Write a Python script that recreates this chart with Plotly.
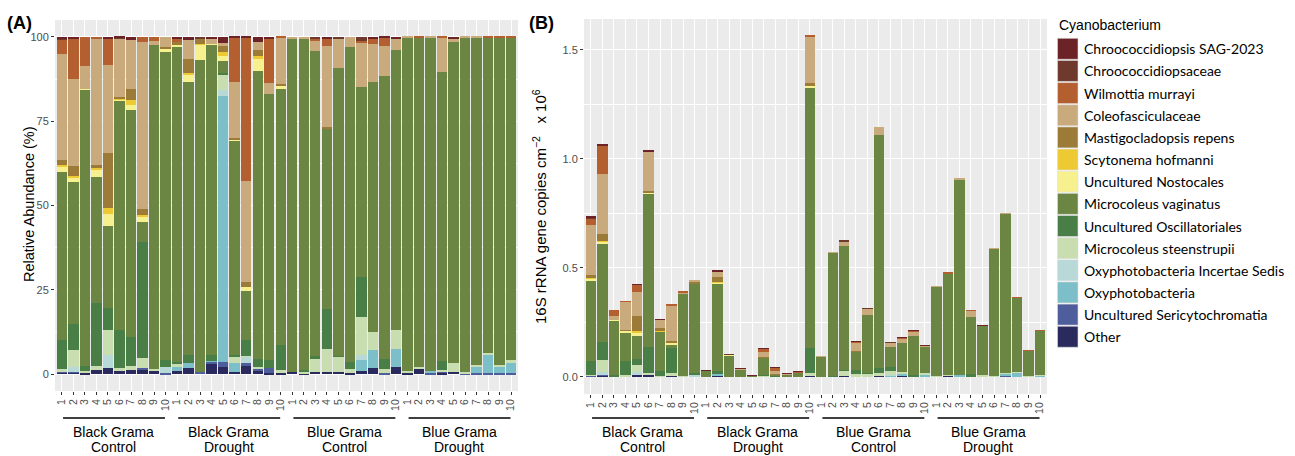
import plotly.graph_objects as go

W, H = 1295, 456

# ---------------- data ----------------
group_names = [("Black Grama", "Control"), ("Black Grama", "Drought"),
               ("Blue Grama", "Control"), ("Blue Grama", "Drought")]
sample_ticks = ["1", "2", "3", "4", "5", "6", "7", "8", "9", "10"] * 4

# species listed bottom -> top of the stack
species = ["Other", "Uncultured Sericytochromatia", "Oxyphotobacteria",
           "Oxyphotobacteria Incertae Sedis", "Microcoleus steenstrupii",
           "Uncultured Oscillatoriales", "Microcoleus vaginatus",
           "Uncultured Nostocales", "Scytonema hofmanni", "Mastigocladopsis repens",
           "Coleofasciculaceae", "Wilmottia murrayi", "Chroococcidiopsaceae",
           "Chroococcidiopsis SAG-2023"]
colors = ["#2B2A5F", "#4E5D9B", "#7DBFC8", "#B9D9D9", "#C8DDB0", "#4A7E47",
          "#6B8543", "#F7F08F", "#EDC934", "#9C7B38", "#C9AA7C", "#B35F2F",
          "#6E3A2E", "#6B2328"]

# relative abundance (%) per sample (40 samples)
other = [0.6, 0.6, 0.5, 1.2, 1.9, 1.0, 1.2, 1.4, 1.0, 0.0,
         1.0, 1.7, 0.0, 3.2, 2.0, 0.7, 2.7, 1.2, 0.4, 0.2,
         0.7, 0.2, 0.7, 0.7, 0.7, 0.3, 1.0, 1.9, 0.0, 2.2,
         0.2, 1.8, 0.0, 0.4, 0.7, 0.0, 0.0, 0.0, 0.0, 0.0]
sericyto = [0.3, 0.1, 0, 0, 0, 0, 0, 0.3, 0, 0.4,
            0, 0, 0.7, 0.5, 1.5, 0, 0.5, 0.5, 1.3, 0,
            0, 0, 0, 0, 0, 0, 0, 0, 0.4, 0,
            0, 0, 0.3, 0.3, 0, 0.2, 0.4, 0.4, 0.2, 0.4]
oxyphoto = [0, 0, 0, 0, 0, 0, 0, 0, 0, 0,
            1.4, 1.5, 0, 0.3, 79.1, 2.5, 0, 0, 0, 0,
            0, 0, 0, 0, 0, 0, 3.2, 5.4, 0, 5.4,
            0, 0, 0.6, 0, 0, 0, 1.8, 5.2, 1.8, 3.0]
incertae = [0, 1.5, 0, 0, 3.7, 0, 0, 0, 0, 1.8,
            0, 0, 0, 0, 1.5, 0, 1.9, 0, 0, 0,
            0, 0, 0, 0, 0, 0, 1.4, 0, 0, 0,
            0, 0, 0, 0, 0, 0, 0, 0, 0, 0]
steenstrupii = [0.5, 4.9, 0.4, 1.2, 7.5, 0.7, 1.2, 3.2, 0.5, 0,
                0.5, 0, 0, 0, 4.6, 1.9, 0.2, 0.3, 0, 1.0,
                0, 0.5, 3.9, 6.9, 4.4, 1.3, 11.4, 5.3, 1.0, 5.5,
                0.6, 0.3, 0, 0.5, 2.5, 0.5, 0.5, 0.7, 0.7, 0.8]
oscillatoriales = [8.7, 7.9, 1.4, 18.8, 6.4, 11.4, 8.7, 34.4, 0, 2.0,
                   0.8, 2.4, 0, 1.6, 0.7, 0.5, 4.8, 2.6, 2.5, 7.4,
                   0, 0.5, 0.7, 11.6, 0.3, 2.1, 11.7, 0, 3.2, 0,
                   0, 0, 0, 2.8, 0, 0, 0, 0, 0, 0]
vaginatus = [49.9, 42.1, 82.0, 37.2, 24.5, 67.9, 67.2, 5.9, 96.1, 91.4,
             93.4, 81.1, 92.3, 92.0, 3.3, 63.6, 14.6, 85.4, 78.8, 76.0,
             98.9, 98.4, 90.6, 53.7, 85.3, 93.2, 56.4, 74.1, 83.8, 83.0,
             99.0, 97.6, 98.8, 85.7, 95.4, 99.1, 97.2, 93.6, 97.2, 95.7]
nostocales = [1.5, 1.2, 0.3, 2.3, 3.4, 0.5, 1.5, 1.5, 0, 0.7,
              0.5, 2.0, 4.6, 0.3, 1.7, 0.3, 1.2, 3.4, 0, 0.7,
              0, 0, 0, 0, 0, 0, 0, 0, 0, 0,
              0, 0, 0, 0, 0, 0, 0, 0, 0, 0]
scytonema = [0.4, 0.4, 0, 0.3, 1.8, 0.3, 1.5, 0.5, 0, 0,
             0, 0.5, 0.3, 0, 1.0, 0, 0, 0.8, 0, 0,
             0, 0, 0, 0, 0, 0, 0, 0, 0, 0,
             0, 0, 0, 0, 0, 0, 0, 0, 0, 0]
mastigocladopsis = [1.6, 3.0, 0, 1.0, 16.3, 0.5, 3.3, 1.7, 0, 0.8,
                    1.0, 4.2, 1.7, 0, 1.9, 0.4, 1.5, 1.9, 0, 0.7,
                    0, 0, 0, 0.5, 0, 0, 0, 0, 0, 0,
                    0, 0, 0, 0, 0, 0, 0, 0, 0, 0]
coleofasciculaceae = [31.5, 25.7, 6.8, 37.5, 26.2, 17.3, 14.5, 49.7, 1.2, 2.9,
                      0, 5.7, 0, 1.7, 0.8, 16.8, 30.0, 2.5, 3.3, 13.8,
                      0.4, 0.4, 3.0, 23.9, 8.6, 3.1, 13.2, 11.1, 8.9, 3.5,
                      0.2, 0, 0.3, 10.2, 0.7, 0.2, 0.1, 0, 0, 0]
wilmottia = [4.1, 12.2, 8.6, 0.5, 7.9, 0, 0, 1.4, 1.2, 0,
             0.7, 0, 0, 0, 0, 13.0, 42.5, 0, 13.3, 0.2,
             0, 0, 0.4, 2.0, 0, 0, 0.5, 1.8, 2.6, 0,
             0, 0.3, 0, 0.1, 0, 0, 0, 0.1, 0.1, 0.1]
chroococcidiopsaceae = [0.5, 0, 0, 0, 0, 0.2, 0, 0, 0, 0,
                        0, 0, 0.4, 0, 0, 0, 0, 0, 0, 0,
                        0, 0, 0.7, 0, 0.7, 0, 1.2, 0, 0, 0,
                        0, 0, 0, 0, 0, 0, 0, 0, 0, 0]
sag2023 = [0.4, 0.4, 0, 0, 0.4, 0.2, 0.9, 0, 0, 0,
           0.7, 0.9, 0, 0.4, 1.9, 0.3, 0.1, 1.4, 0.4, 0,
           0, 0, 0, 0.7, 0, 0, 0, 0.4, 0.1, 0.4,
           0, 0, 0, 0, 0.7, 0, 0, 0, 0, 0]

# total 16S rRNA gene copies cm-2 (x 10^6) per sample
totals = [0.734, 1.066, 0.307, 0.348, 0.426, 1.037, 0.264, 0.334, 0.394, 0.447,
          0.029, 0.490, 0.105, 0.037, 0.005, 0.131, 0.045, 0.014, 0.024, 1.566,
          0.096, 0.571, 0.627, 0.163, 0.316, 1.147, 0.160, 0.182, 0.215, 0.144,
          0.417, 0.478, 0.910, 0.307, 0.238, 0.591, 0.750, 0.363, 0.121, 0.215]

rel_series = [other, sericyto, oxyphoto, incertae, steenstrupii, oscillatoriales,
              vaginatus, nostocales, scytonema, mastigocladopsis, coleofasciculaceae,
              wilmottia, chroococcidiopsaceae, sag2023]

# ---------------- figure ----------------
xs = list(range(1, len(totals) + 1))
fig = go.Figure()
for name, col, rel in zip(species, colors, rel_series):
    fig.add_trace(go.Bar(x=xs, y=rel, name=name, marker_color=col,
                         marker_line_width=0, showlegend=False,
                         xaxis="x", yaxis="y"))
    absval = [r / 100.0 * t for r, t in zip(rel, totals)]
    fig.add_trace(go.Bar(x=xs, y=absval, name=name, marker_color=col,
                         marker_line_width=0, showlegend=False,
                         xaxis="x2", yaxis="y2"))


def px_x(p):
    return p / W


def px_y(p):
    return 1 - p / H


tickfont = dict(family="Liberation Sans, Arial, sans-serif", size=10.5, color="#4D4D4D")
xcommon = dict(range=[0.4, 40.6], tickmode="array", tickvals=xs, ticktext=sample_ticks,
               tickangle=-90, ticks="outside", ticklen=3, tickwidth=1, tickcolor="#333333",
               showgrid=True, gridcolor="white", gridwidth=1.1, zeroline=False,
               showline=False, tickfont=tickfont, fixedrange=True)
ycommon = dict(ticks="outside", ticklen=3, tickwidth=1, tickcolor="#333333",
               showgrid=True, gridcolor="white", gridwidth=1.1, zeroline=False,
               showline=False, tickfont=dict(family="Liberation Sans, Arial, sans-serif",
                                             size=11, color="#4D4D4D"))

fig.update_layout(
    width=W, height=H, margin=dict(l=0, r=0, t=0, b=0),
    barmode="stack", bargap=0.1,
    plot_bgcolor="#EBEBEB", paper_bgcolor="white",
    font=dict(family="Liberation Sans, Arial, sans-serif", color="black"),
    xaxis=dict(domain=[px_x(55), px_x(518)], anchor="y", **xcommon),
    yaxis=dict(domain=[px_y(391), px_y(20)], anchor="x", range=[-5, 105],
               tickvals=[0, 25, 50, 75, 100],
               minor=dict(tickvals=[12.5, 37.5, 62.5, 87.5], showgrid=True,
                          gridcolor="white", gridwidth=0.5, ticks=""),
               **ycommon),
    xaxis2=dict(domain=[px_x(584), px_x(1047)], anchor="y2", **xcommon),
    yaxis2=dict(domain=[px_y(394), px_y(19)], anchor="x2", range=[-0.078, 1.642],
                tickvals=[0, 0.5, 1.0, 1.5], tickformat=".1f",
                minor=dict(tickvals=[0.25, 0.75, 1.25], showgrid=True,
                           gridcolor="white", gridwidth=0.5, ticks=""),
                **ycommon),
)

ann = []
shapes = []
# panel labels
ann.append(dict(text="<b>(A)</b>", x=px_x(5), y=px_y(23), xref="paper", yref="paper",
                xanchor="left", yanchor="middle", showarrow=False, font=dict(size=18)))
ann.append(dict(text="<b>(B)</b>", x=px_x(527), y=px_y(23), xref="paper", yref="paper",
                xanchor="left", yanchor="middle", showarrow=False, font=dict(size=18)))
# axis titles
ann.append(dict(text="Relative Abundance (%)", x=px_x(19), y=px_y(204), xref="paper",
                yref="paper", textangle=-90, showarrow=False, font=dict(size=14.5)))
ann.append(dict(text="16S rRNA gene copies cm<sup>\u22122</sup>   x 10<sup>6</sup>",
                x=px_x(539), y=px_y(207), xref="paper", yref="paper", textangle=-90,
                showarrow=False, font=dict(size=15)))
# group labels and lines
for xr in ["x", "x2"]:
    for g, (l1, l2) in enumerate(group_names):
        x0 = g * 10 + 1.1
        x1 = g * 10 + 9.95
        shapes.append(dict(type="line", xref=xr, yref="paper", x0=x0, x1=x1,
                           y0=px_y(418), y1=px_y(418), line=dict(color="black", width=1.6)))
        ann.append(dict(text=l1, x=g * 10 + 5.5, y=px_y(432), xref=xr, yref="paper",
                        showarrow=False, font=dict(size=14), yanchor="middle"))
        ann.append(dict(text=l2, x=g * 10 + 5.5, y=px_y(446.5), xref=xr, yref="paper",
                        showarrow=False, font=dict(size=14), yanchor="middle"))

# legend (drawn top -> bottom)
ann.append(dict(text="Cyanobacterium", x=px_x(1057), y=px_y(25), xref="paper",
                yref="paper", xanchor="left", yanchor="middle", showarrow=False,
                font=dict(size=14)))
leg_top = 38.3
pitch = 22.15
for i, (name, col) in enumerate(zip(species[::-1], colors[::-1])):
    top = leg_top + i * pitch
    shapes.append(dict(type="rect", xref="paper", yref="paper",
                       x0=px_x(1057.5), x1=px_x(1078), y0=px_y(top + 21), y1=px_y(top),
                       fillcolor=col, line=dict(color="#DDDDDD", width=0.6)))
    ann.append(dict(text=name, x=px_x(1082), y=px_y(top + 10.5), xref="paper",
                    yref="paper", xanchor="left", yanchor="middle", showarrow=False,
                    font=dict(size=14, family="Lato, Liberation Sans, sans-serif")))

fig.update_layout(annotations=ann, shapes=shapes)
fig.write_html("out.html", config={"displayModeBar": False},
               post_script="document.body.style.margin='0';document.body.style.overflow='hidden';")
